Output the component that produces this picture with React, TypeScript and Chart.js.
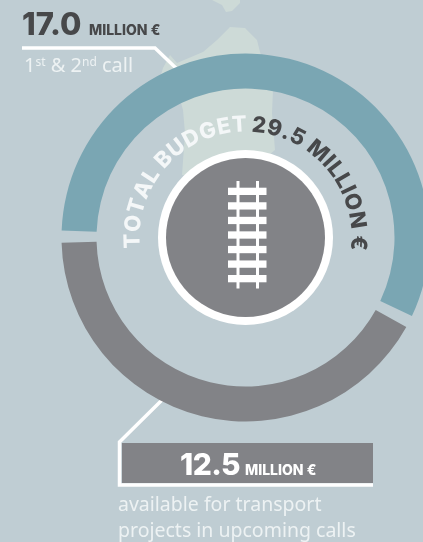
import React, { useEffect, useRef } from "react";
import { Chart, registerables } from "chart.js";

Chart.register(...registerables);

const categories = ["1st & 2nd call", "available for transport projects in upcoming calls"];
const budgetValues = [17.0, 12.5];
const sliceColors = ["#7AA6B3", "#828387"];
const totalLeft = "TOTAL BUDGET";
const totalRight = "29.5 MILLION €";
const unit = "MILLION €";
const BG = "#BFCDD3";
const MAP = "#CDDAD7";
const DARK = "#47484A";
const SOFT = "#EDF2F3";
const HEAD = "Inter, 'Liberation Sans', sans-serif";
const BODY = "'Noto Sans', 'DejaVu Sans', sans-serif";

const mapMain: [number, number][] = [
  [160, 78], [163, 68], [170, 55], [177, 63], [203, 52], [217, 40], [230, 27], [245, 28], [257, 40],
  [260, 52], [273, 90], [272, 113], [275, 150], [240, 180], [182, 175], [185, 133], [183, 110], [177, 88],
];
const mapTop: [number, number][] = [
  [212, 0], [222, 5], [226, 12], [232, 11], [240, 3], [240, 0],
];

function poly(ctx: CanvasRenderingContext2D, pts: [number, number][], color: string) {
  ctx.fillStyle = color;
  ctx.beginPath();
  pts.forEach(([x, y], i) => (i ? ctx.lineTo(x, y) : ctx.moveTo(x, y)));
  ctx.closePath();
  ctx.fill();
}

function arcText(
  ctx: CanvasRenderingContext2D, text: string, cx: number, cy: number, r: number,
  startDeg: number, endDeg: number, color: string,
) {
  ctx.fillStyle = color;
  ctx.textAlign = "center";
  ctx.textBaseline = "alphabetic";
  const chars = Array.from(text);
  const widths = chars.map((c) => ctx.measureText(c).width);
  const total = widths.reduce((a, b) => a + b, 0);
  const scale = (((endDeg - startDeg) * Math.PI) / 180) * r / total;
  let pos = (startDeg * Math.PI) / 180;
  chars.forEach((c, i) => {
    const step = (widths[i] * scale) / r;
    const a = pos + step / 2;
    ctx.save();
    ctx.translate(cx + r * Math.sin(a), cy - r * Math.cos(a));
    ctx.rotate(a);
    ctx.fillText(c, 0, 0);
    ctx.restore();
    pos += step;
  });
}

const backdrop = {
  id: "backdrop",
  beforeDraw(chart: Chart) {
    const ctx = chart.ctx;
    ctx.save();
    ctx.fillStyle = BG;
    ctx.fillRect(0, 0, chart.width, chart.height);
    poly(ctx, mapMain, MAP);
    poly(ctx, mapTop, MAP);
    ctx.strokeStyle = "#FFFFFF";
    ctx.lineWidth = 3.5;
    ctx.lineJoin = "miter";
    ctx.beginPath();
    ctx.moveTo(22, 48);
    ctx.lineTo(155, 48);
    ctx.lineTo(178, 70);
    ctx.stroke();
    ctx.beginPath();
    ctx.moveTo(162, 400);
    ctx.lineTo(119.5, 442);
    ctx.lineTo(119.5, 485);
    ctx.lineTo(373, 485);
    ctx.stroke();
    ctx.fillStyle = "#828387";
    ctx.fillRect(122, 443, 251, 40);
    ctx.restore();
  },
};

const overlay = {
  id: "overlay",
  afterDraw(chart: Chart) {
    const ctx = chart.ctx;
    const meta = chart.getDatasetMeta(0).data[0] as any;
    const cx = meta.x;
    const cy = meta.y;
    ctx.save();
    // hub
    ctx.fillStyle = "#FFFFFF";
    ctx.beginPath();
    ctx.arc(cx, cy, 87.5, 0, Math.PI * 2);
    ctx.fill();
    ctx.fillStyle = "#828387";
    ctx.beginPath();
    ctx.arc(cx, cy, 79.5, 0, Math.PI * 2);
    ctx.fill();
    // rail icon
    ctx.fillStyle = "#FFFFFF";
    ctx.fillRect(cx - 9, 181, 3, 107.5);
    ctx.fillRect(cx + 10.5, 181, 3, 107.5);
    for (let i = 0; i < 7; i++) ctx.fillRect(cx - 17.5, 187.7 + i * 14.55, 38.5, 7.3);

    // curved title
    ctx.font = `800 22px ${HEAD}`;
    arcText(ctx, totalLeft, cx, cy, 106, -96, 1, "#F4F7F8");
    arcText(ctx, totalRight, cx, cy, 106, 3, 97, DARK);

    ctx.textAlign = "left";
    ctx.textBaseline = "alphabetic";
    // top label
    ctx.fillStyle = DARK;
    ctx.font = `800 31px ${HEAD}`;
    ctx.fillText(budgetValues[0].toFixed(1), 22, 35);
    ctx.font = `800 14px ${HEAD}`;
    ctx.fillText(unit, 89, 35);
    // sub label
    ctx.fillStyle = SOFT;
    let x = 24;
    const piece = (s: string, size: number, y: number) => {
      ctx.font = `400 ${size}px ${BODY}`;
      ctx.fillText(s, x, y);
      x += ctx.measureText(s).width;
    };
    piece("1", 20, 72);
    piece("st", 12, 66);
    piece(" & 2", 20, 72);
    piece("nd", 12, 66);
    piece(" call", 20, 72);
    // bottom label
    ctx.fillStyle = "#FFFFFF";
    ctx.font = `800 30px ${HEAD}`;
    (ctx as any).letterSpacing = "-0.6px";
    ctx.fillText(budgetValues[1].toFixed(1), 180, 475);
    (ctx as any).letterSpacing = "0px";
    ctx.font = `800 14px ${HEAD}`;
    ctx.fillText(unit, 245, 475);
    ctx.fillStyle = SOFT;
    ctx.font = `400 19.5px ${BODY}`;
    ctx.fillText("available for transport", 118, 511);
    ctx.fillText("projects in upcoming calls", 118, 537);
    ctx.restore();
  },
};

export default function App() {
  const ref = useRef<HTMLCanvasElement>(null);
  useEffect(() => {
    const chart = new Chart(ref.current!, {
      type: "doughnut",
      data: {
        labels: categories,
        datasets: [{ data: budgetValues, backgroundColor: sliceColors, borderWidth: 0, spacing: 7 }],
      },
      options: {
        animation: false,
        responsive: false,
        rotation: -90,
        cutout: 145.5,
        layout: { padding: { left: 61.5, right: 10.5, top: 53.5, bottom: 120.5 } },
        plugins: { legend: { display: false }, tooltip: { enabled: false } },
      },
      plugins: [backdrop, overlay],
    });
    return () => chart.destroy();
  }, []);
  return (
    <div style={{ position: "absolute", left: 0, top: 0, width: 423, height: 542, overflow: "hidden" }}>
      <canvas ref={ref} width={440} height={542} style={{ display: "block" }} />
    </div>
  );
}
